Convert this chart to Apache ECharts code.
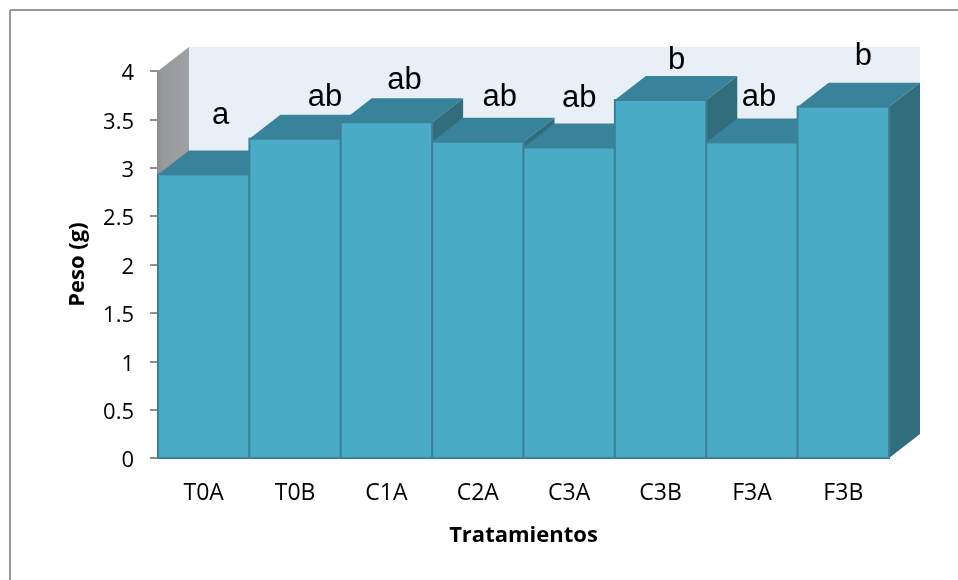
<!DOCTYPE html>
<html>
<head>
<meta charset="utf-8">
<style>html,body{margin:0;padding:0;background:#fff}#c{width:958px;height:580px}</style>
<script src="https://cdn.jsdelivr.net/npm/echarts@6/dist/echarts.min.js"></script>
</head>
<body>
<div id="c"></div>
<script>
const categories = ['T0A','T0B','C1A','C2A','C3A','C3B','F3A','F3B'];
const values = [2.93,3.30,3.47,3.27,3.21,3.70,3.26,3.63];
const letters = ['a','ab','ab','ab','ab','b','ab','b'];
// where each hand-placed letter sits relative to the top-centre of its bar
const letterDx = [17,30,18,22,10,16,7,20];
const letterDy = [-59,-41,-42,-44,-49,-40,-45,-50];
const axisMax = 4;

const DEPTH_X = 31, DEPTH_Y = 24;
const C = {front:'#4aabc7', edge:'#3b8299', top:'#38829a', side:'#316d7d', wall:'#e8eff6', axis:'#8e8e8e'};
const poly = (points, fill, stroke) => ({
  type:'polygon', shape:{points}, style:{fill, stroke: stroke || fill, lineWidth: stroke ? 2 : 0}
});

function renderWalls(params, api) {
  const band = api.size([1,0])[0];
  const n = categories.length;
  const tl = api.coord([0, axisMax]); const bl = api.coord([0, 0]);
  const xL = tl[0] - band/2, xR = xL + band*n, yT = tl[1], yB = bl[1];
  return {type:'group', children:[
    poly([[xL+DEPTH_X,yT-DEPTH_Y],[xR+DEPTH_X,yT-DEPTH_Y],[xR+DEPTH_X,yB-DEPTH_Y],[xL+DEPTH_X,yB-DEPTH_Y]], C.wall),
    {type:'polygon', shape:{points:[[xL,yT],[xL+DEPTH_X,yT-DEPTH_Y],[xL+DEPTH_X,yB-DEPTH_Y],[xL,yB]]},
     style:{fill:new echarts.graphic.LinearGradient(0,0,1,0,[{offset:0,color:'#8f9195'},{offset:0.15,color:'#96989c'},{offset:1,color:'#9fa1a5'}])}}
  ]};
}
function renderBar(params, api) {
  const i = api.value(0), v = api.value(1);
  const band = api.size([1,0])[0];
  const t = api.coord([i, v]), b = api.coord([i, 0]);
  const x0 = t[0]-band/2, x1 = t[0]+band/2, y0 = t[1], y1 = b[1];
  return {type:'group', children:[
    poly([[x1,y0],[x1+DEPTH_X,y0-DEPTH_Y],[x1+DEPTH_X,y1-DEPTH_Y],[x1,y1]], C.side),
    poly([[x0,y0],[x0+DEPTH_X,y0-DEPTH_Y],[x1+DEPTH_X,y0-DEPTH_Y],[x1,y0]], C.top),
    {type:'rect', shape:{x:x0,y:y0,width:x1-x0,height:y1-y0},
     style:{fill:C.front, stroke:C.edge, lineWidth:2}}
  ]};
}
function renderLetter(params, api) {
  const i = api.value(0);
  const t = api.coord([i, api.value(1)]);
  return {type:'text', style:{
    x:t[0]+letterDx[i], y:t[1]+letterDy[i], text:letters[i],
    fill:'#000', font:'31px "Liberation Sans"', textAlign:'center', textVerticalAlign:'middle'
  }};
}

const chart = echarts.init(document.getElementById('c'), null, {renderer:'canvas'});
const barData = values.map((v,i)=>[i,v]);
chart.setOption({
  animation:false,
  backgroundColor:'#fff',
  graphic:[
    {type:'line', shape:{x1:10,y1:10,x2:958,y2:10}, style:{stroke:'#999',lineWidth:2}},
    {type:'line', shape:{x1:10,y1:10,x2:10,y2:580}, style:{stroke:'#999',lineWidth:2}}
  ],
  grid:{left:158,right:69,top:71,bottom:122},
  xAxis:{
    type:'category', data:categories,
    axisLine:{lineStyle:{color:C.axis,width:2}},
    axisTick:{show:false},
    axisLabel:{color:'#000',fontFamily:'Open Sans',fontSize:23,margin:24},
    name:'Tratamientos', nameLocation:'middle', nameGap:67,
    nameTextStyle:{color:'#000',fontFamily:'Open Sans',fontWeight:'bold',fontSize:22}
  },
  yAxis:{
    type:'value', min:0, max:axisMax, interval:0.5,
    splitLine:{show:false},
    axisLine:{show:true,lineStyle:{color:C.axis,width:2}},
    axisTick:{show:true,length:8,lineStyle:{color:C.axis,width:2}},
    axisLabel:{color:'#000',fontFamily:'Open Sans',fontSize:22,margin:24,verticalAlign:'top',lineHeight:6},
    name:'Peso (g)', nameLocation:'middle', nameGap:69,
    nameTextStyle:{color:'#000',fontFamily:'Open Sans',fontWeight:'bold',fontSize:22}
  },
  series:[
    {type:'custom', renderItem:renderWalls, data:[[0,axisMax]], z:1, silent:true},
    {type:'custom', renderItem:renderBar, data:barData, z:2, silent:true},
    {type:'custom', renderItem:renderLetter, data:barData, z:3, silent:true}
  ]
});
</script>
</body>
</html>
